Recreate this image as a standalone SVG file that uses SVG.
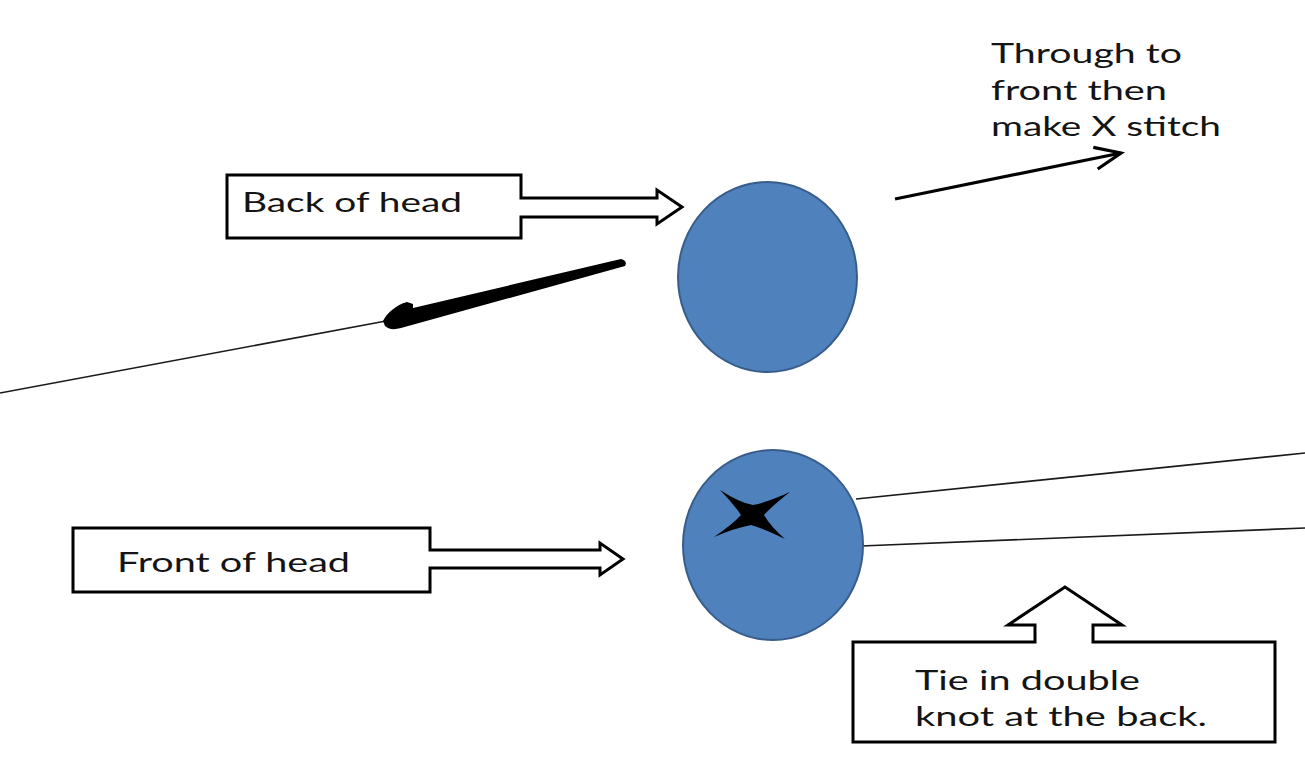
<svg xmlns="http://www.w3.org/2000/svg" width="1305" height="768" viewBox="0 0 1305 768">
<style>
.box{fill:#fff;stroke:#000;stroke-width:3;stroke-linejoin:miter}
.head{fill:#4F81BD;stroke:#385D8A;stroke-width:2}
.lbl{font-family:Lato,"Open Sans","Liberation Sans",sans-serif;font-size:26px;fill:#141414}
.thread{fill:none;stroke:#1a1a1a;stroke-width:1.6}
</style>
<defs>
<marker id="open" markerUnits="userSpaceOnUse" markerWidth="40" markerHeight="40" refX="28" refY="12" orient="auto" viewBox="0 0 40 24">
<path d="M2,1 L28,12 L2,23" fill="none" stroke="#000" stroke-width="3.2" stroke-linejoin="miter"/>
</marker>
</defs>
<rect width="1305" height="768" fill="#fff"/>
<g id="connectors">
<line class="thread" x1="0" y1="393" x2="386" y2="321"/>
<path d="M383,321 C387,313 396,305 407,302 L413,304 L413,308 L621,259 Q628,261 625,266 L401,328 Q390,331 385,326 Z" fill="#000"/>
<line class="thread" x1="856" y1="499" x2="1305" y2="453"/>
<line class="thread" x1="861" y1="546" x2="1305" y2="528"/>
<line x1="895" y1="199" x2="1121" y2="153" stroke="#000" stroke-width="3.2" marker-end="url(#open)"/>
</g>
<g id="back-head">
<ellipse class="head" cx="767.5" cy="277" rx="89.5" ry="95"/>
</g>
<g id="front-head">
<ellipse class="head" cx="773" cy="545" rx="90" ry="95"/>
<path d="M720,490 Q740,503 753,505 Q768,502 790,492 Q772,506 764,515 Q771,527 785,539 Q765,529 751,525 Q735,528 714,537 Q733,524 741,515 Q733,503 720,490 Z" fill="#000"/>
</g>
<g id="label-back">
<path class="box" d="M227,175 L521,175 L521,198 L657,198 L657,190 L682,207 L657,224 L657,217 L521,217 L521,238 L227,238 Z"/>
<text class="lbl" x="242" y="212" textLength="220" lengthAdjust="spacingAndGlyphs">Back of head</text>
</g>
<g id="label-front">
<path class="box" d="M73,528 L430,528 L430,550 L600,550 L600,543 L623,559 L600,575 L600,568 L430,568 L430,592 L73,592 Z"/>
<text class="lbl" x="117" y="572" textLength="233" lengthAdjust="spacingAndGlyphs">Front of head</text>
</g>
<g id="label-through">
<text class="lbl" x="991" y="63" textLength="191" lengthAdjust="spacingAndGlyphs">Through to</text>
<text class="lbl" x="991" y="100" textLength="176" lengthAdjust="spacingAndGlyphs">front then</text>
<text class="lbl" x="991" y="136" textLength="230" lengthAdjust="spacingAndGlyphs">make X stitch</text>
</g>
<g id="label-tie">
<path class="box" d="M853,642 L1035,642 L1035,625 L1008,625 L1065,587 L1122,625 L1093,625 L1093,642 L1275,642 L1275,742 L853,742 Z"/>
<text class="lbl" x="915" y="690" textLength="225" lengthAdjust="spacingAndGlyphs">Tie in double</text>
<text class="lbl" x="915" y="726" textLength="292" lengthAdjust="spacingAndGlyphs">knot at the back.</text>
</g>
</svg>
